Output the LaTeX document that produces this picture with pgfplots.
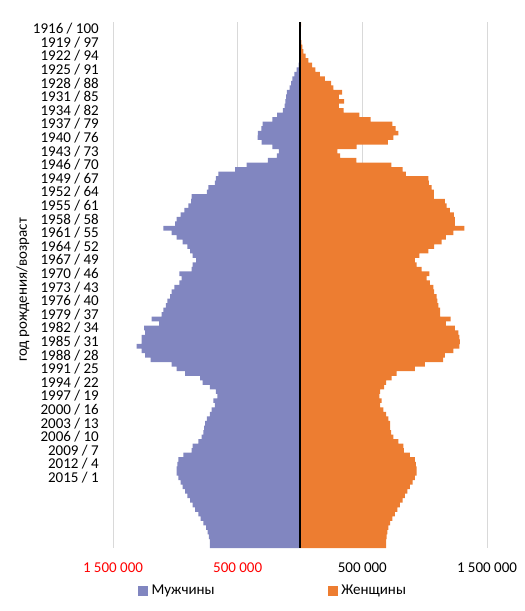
\documentclass[border=0pt]{standalone}
\usepackage{pgfplots}
\usepackage{pgfplotstable}
\usepackage{fontspec}
\setmainfont{Carlito}
\pgfplotsset{compat=1.18}
\definecolor{male}{RGB}{129,134,192}
\definecolor{female}{RGB}{237,125,49}
\definecolor{gridc}{RGB}{217,217,217}
\definecolor{negred}{RGB}{255,0,0}
\pgfplotstableread{
year m f
1915 -500 10000
1916 -500 4000
1917 -500 5000
1918 -1000 8000
1919 -2000 11000
1920 -3000 19000
1921 -4000 27000
1922 -5000 45000
1923 -6000 67000
1924 -12000 97000
1925 -27000 124000
1926 -45000 160000
1927 -61000 200000
1928 -72000 250000
1929 -84000 267000
1930 -106000 338000
1931 -112000 312000
1932 -117000 353000
1933 -124000 312000
1934 -138000 349000
1935 -184000 476000
1936 -222000 567000
1937 -300000 741000
1938 -310000 767000
1939 -337000 789000
1940 -339000 748000
1941 -307000 705000
1942 -222000 455000
1943 -170000 300000
1944 -186000 322000
1945 -257000 452000
1946 -428000 732000
1947 -521000 823000
1948 -655000 850000
1949 -674000 1029000
1950 -682000 1034000
1951 -735000 1056000
1952 -748000 1074000
1953 -869000 1074000
1954 -874000 1163000
1955 -895000 1176000
1956 -928000 1203000
1957 -957000 1235000
1958 -989000 1243000
1959 -1002000 1243000
1960 -1096000 1318000
1961 -1029000 1230000
1962 -989000 1171000
1963 -941000 1136000
1964 -903000 1075000
1965 -882000 1029000
1966 -861000 957000
1967 -834000 922000
1968 -861000 935000
1969 -869000 976000
1970 -968000 1037000
1971 -949000 1016000
1972 -968000 1042000
1973 -1008000 1069000
1974 -1029000 1075000
1975 -1042000 1096000
1976 -1064000 1101000
1977 -1075000 1109000
1978 -1096000 1123000
1979 -1109000 1123000
1980 -1190000 1208000
1981 -1130000 1171000
1982 -1251000 1243000
1983 -1243000 1270000
1984 -1270000 1278000
1985 -1270000 1283000
1986 -1310000 1278000
1987 -1270000 1230000
1988 -1243000 1163000
1989 -1198000 1149000
1990 -1029000 1002000
1991 -989000 922000
1992 -922000 775000
1993 -802000 735000
1994 -781000 690000
1995 -722000 674000
1996 -674000 642000
1997 -663000 636000
1998 -695000 655000
1999 -682000 642000
2000 -708000 668000
2001 -722000 690000
2002 -748000 708000
2003 -762000 722000
2004 -770000 722000
2005 -775000 730000
2006 -789000 748000
2007 -815000 789000
2008 -861000 829000
2009 -869000 834000
2010 -936000 882000
2011 -976000 922000
2012 -984000 930000
2013 -989000 935000
2014 -989000 935000
2015 -976000 922000
2016 -957000 903000
2017 -941000 882000
2018 -922000 861000
2019 -903000 842000
2020 -882000 823000
2021 -861000 802000
2022 -842000 781000
2023 -815000 762000
2024 -797000 740000
2025 -775000 722000
2026 -754000 708000
2027 -740000 700000
2028 -730000 695000
2029 -722000 690000
2030 -722000 690000
}\pop
\begin{document}
\begin{tikzpicture}
\path[use as bounding box] (0,0) rectangle (393.75pt,458.25pt);
\begin{axis}[
  at={(84.75pt,47.25pt)}, anchor=south west,
  scale only axis, width=280.5pt, height=394.5pt,
  xmin=-1500000, xmax=1500000,
  ymin=1914.5, ymax=2030.5, y dir=reverse,
  xbar, bar shift=0pt, bar width=1.03,
  axis line style={draw=none},
  major tick length=0pt,
  xmajorgrids, grid style={draw=gridc, line width=0.75pt},
  scaled x ticks=false,
  /pgf/number format/assume math mode=true,
  font=\fontsize{11.25}{13.5}\selectfont,
  xtick={-1500000,-500000,500000,1500000},
  xticklabels={{\textcolor{negred}{1 500 000}},{\textcolor{negred}{500 000}},{500 000},{1 500 000}},
  xticklabel style={anchor=base, yshift=-18pt},
  ytick={1916,1919,...,2015},
  yticklabels={1916 / 100,1919 / 97,1922 / 94,1925 / 91,1928 / 88,1931 / 85,1934 / 82,1937 / 79,1940 / 76,1943 / 73,1946 / 70,1949 / 67,1952 / 64,1955 / 61,1958 / 58,1961 / 55,1964 / 52,1967 / 49,1970 / 46,1973 / 43,1976 / 40,1979 / 37,1982 / 34,1985 / 31,1988 / 28,1991 / 25,1994 / 22,1997 / 19,2000 / 16,2003 / 13,2006 / 10,2009 / 7,2012 / 4,2015 / 1},
  yticklabel style={anchor=east, inner sep=0pt, xshift=-10.5pt},
  legend columns=2,
  legend style={at={(axis description cs:0.0668,-0.0812)}, anchor=west, draw=none, inner sep=0pt,
    font=\fontsize{11.25}{13.5}\selectfont,
    nodes={inner sep=0pt}, column sep=2.5pt,
    /tikz/every even column/.append style={column sep=85pt}},
  legend image code/.code={\fill[#1] (0pt,-3.75pt) rectangle (7.5pt,3.75pt);},
]
\addplot[fill=male, draw=none] table[x=m, y=year] {\pop};
\addlegendentry{Мужчины}
\addplot[fill=female, draw=none] table[x=f, y=year] {\pop};
\addlegendentry{Женщины}
\draw[black, line width=1.5pt] (axis cs:0,1914.5) -- (axis cs:0,2030.5);
\end{axis}
\node[rotate=90, font=\fontsize{11.25}{13.5}\selectfont] at (17.25pt,240.75pt) {год рождения/возраст};
\end{tikzpicture}
\end{document}
